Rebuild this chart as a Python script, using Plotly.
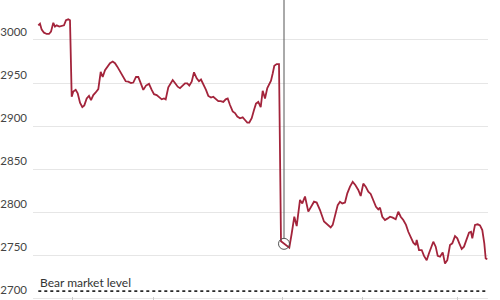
import plotly.graph_objects as go

# time index (arbitrary units along the session axis)
t = [0.3, 2, 3.7, 6, 8.7, 11, 13, 15.3, 17, 18.7, 21.3, 23.7, 26, 28, 30.3, 32,
     33.7, 35.3, 37.7, 39.7, 42, 44.3, 46.3, 48.7, 51, 53, 55.3, 57.7, 60.3,
     62.7, 64.7, 67, 69.3, 72, 74.7, 77, 79.3, 82, 84.7, 87.7, 90.3, 93, 95.3,
     98, 100.3, 103, 105.3, 108, 111, 113.7, 116, 118.7, 121, 123.7, 126, 127.7,
     130.3, 132.7, 134.7, 137, 139.7, 142, 144.7, 147, 149.3, 151.3, 153.7, 156,
     158.7, 161, 163, 165.3, 168, 170.3, 173, 175.3, 178, 180.3, 182.7, 185.3,
     187.7, 189.7, 192, 194.7, 197, 199.3, 202, 204.7, 207, 209.3, 211.3, 213.7,
     216, 218, 220.3, 222.7, 224.7, 227, 229.3, 231.3, 233, 234.7, 236.3, 238.7,
     241, 243, 246, 249.3, 251.3, 253.7, 256.3, 258.7, 262, 264.3, 267, 270.3,
     273, 276, 278.7, 282, 286, 289.3, 292.7, 294.7, 297, 299.7, 302, 304.3, 307,
     309.3, 312, 314.7, 317.3, 320.3, 322.7, 325.3, 327.7, 330.3, 332.7, 335.3,
     338, 340.3, 342, 344.3, 347, 349.7, 352, 354.7, 357.7, 360.3, 362.7, 365.3,
     368, 370.3, 373, 375.3, 377.7, 378.7, 381, 383.7, 386, 388.7, 391, 393.7,
     395.3, 397.7, 399.7, 402, 404.7, 407, 409.3, 412, 414.3, 417, 419.3, 421.3,
     423.7, 426, 428.7, 431, 433, 434.3, 437, 439.7, 442, 444.3, 446.3, 447.7,
     449.3]

index_level = [3017, 3019, 3012, 3008.5, 3007, 3007, 3009.7, 3020, 3015.5, 3017,
               3015.5, 3016, 3017, 3023, 3024, 3023,
               2934, 2940, 2942, 2938, 2927, 2922, 2924, 2932, 2935, 2930, 2936,
               2939, 2943, 2963, 2957, 2965, 2969, 2973, 2975, 2973, 2969, 2963,
               2957, 2952, 2951.5, 2950, 2950.5, 2957, 2957, 2947.7, 2942, 2947,
               2949, 2942, 2937, 2936, 2934, 2931, 2932, 2931, 2945, 2949.6,
               2953.5, 2950, 2945.7, 2944, 2946.5, 2949.6, 2949.6, 2947, 2951.5,
               2962.4, 2955.5, 2952, 2954, 2949, 2942, 2935, 2933, 2934, 2931,
               2929, 2929, 2928, 2931, 2932, 2924.4, 2917, 2915, 2911, 2909, 2910,
               2907, 2904, 2904, 2909, 2918.6, 2926, 2928, 2922, 2941, 2932, 2944,
               2949.6, 2952.7, 2961, 2970, 2972, 2972,
               2766, 2763, 2760, 2758.5, 2775, 2794.5, 2783.7, 2814, 2810, 2818,
               2800.4, 2806, 2812, 2811, 2802.3, 2789, 2785, 2782, 2785, 2794.5,
               2808, 2812, 2810, 2811, 2821.7, 2829.5, 2835, 2831.4, 2825.6,
               2818.6, 2833, 2829.5, 2823.6, 2821, 2814, 2806, 2803, 2805, 2794.5,
               2790.7, 2792.6, 2794.5, 2793.4, 2791.5, 2800.4, 2794.5, 2790.7,
               2785, 2777, 2770.6, 2764.3, 2761.6, 2767.4, 2755.8, 2755.8, 2749,
               2744, 2752, 2761.6, 2765.5, 2759.7, 2749, 2748, 2753, 2740, 2744,
               2761.6, 2763.6, 2772, 2769.4, 2763.6, 2757, 2759.7, 2769.4, 2776,
               2777, 2769.4, 2785, 2785.7, 2784.5, 2779, 2763.6, 2746, 2745]

y_ticks = [2700, 2750, 2800, 2850, 2900, 2950, 3000]
x_ticks = [34, 115, 244, 324, 419]

bear_level = 2708
bear_label = "Bear market level"
event_t = 246
event_level = 2763

n = min(len(t), len(index_level))
t = t[:n]
index_level = index_level[:n]

fig = go.Figure()

fig.add_trace(go.Scatter(
    x=[t[0], t[-1]], y=[bear_level, bear_level], mode="lines",
    line=dict(color="#2a2a2a", width=1.8, dash="dot"),
    hoverinfo="skip", showlegend=False))

fig.add_trace(go.Scatter(
    x=t, y=index_level, mode="lines",
    line=dict(color="#a3243b", width=1.8),
    showlegend=False))

fig.add_trace(go.Scatter(
    x=[event_t], y=[event_level], mode="markers",
    marker=dict(symbol="circle-open", size=11, color="#555555",
                line=dict(width=1, color="#555555")),
    hoverinfo="skip", showlegend=False))

y_top = 3046.5
y_bottom = 2697.7

fig.add_shape(type="line", xref="x", yref="y",
              x0=event_t, x1=event_t, y0=event_level + 6.5, y1=y_top,
              line=dict(color="#555555", width=1))

fig.add_annotation(x=t[0], y=bear_level, xref="x", yref="y",
                   text=bear_label, showarrow=False,
                   xanchor="left", yanchor="bottom", yshift=-1,
                   font=dict(family="Lato", size=12, color="#333333"))

fig.update_layout(
    width=500, height=300,
    margin=dict(l=33, r=12, t=0, b=0),
    paper_bgcolor="white", plot_bgcolor="white",
    font=dict(family="Lato", size=11.5, color="#444444"),
    xaxis=dict(range=[-5, 450], showgrid=False, zeroline=False,
               tickvals=x_ticks, ticktext=[""] * len(x_ticks),
               ticks="inside", ticklen=3, tickcolor="#cccccc",
               showline=False),
    yaxis=dict(range=[y_bottom, y_top], tickvals=y_ticks,
               ticklabelposition="outside top", ticklabelstandoff=5,
               showgrid=True, gridcolor="#e6e6e6", gridwidth=1,
               zeroline=False, showline=False, ticks=""),
)

fig.write_html("out.html")
